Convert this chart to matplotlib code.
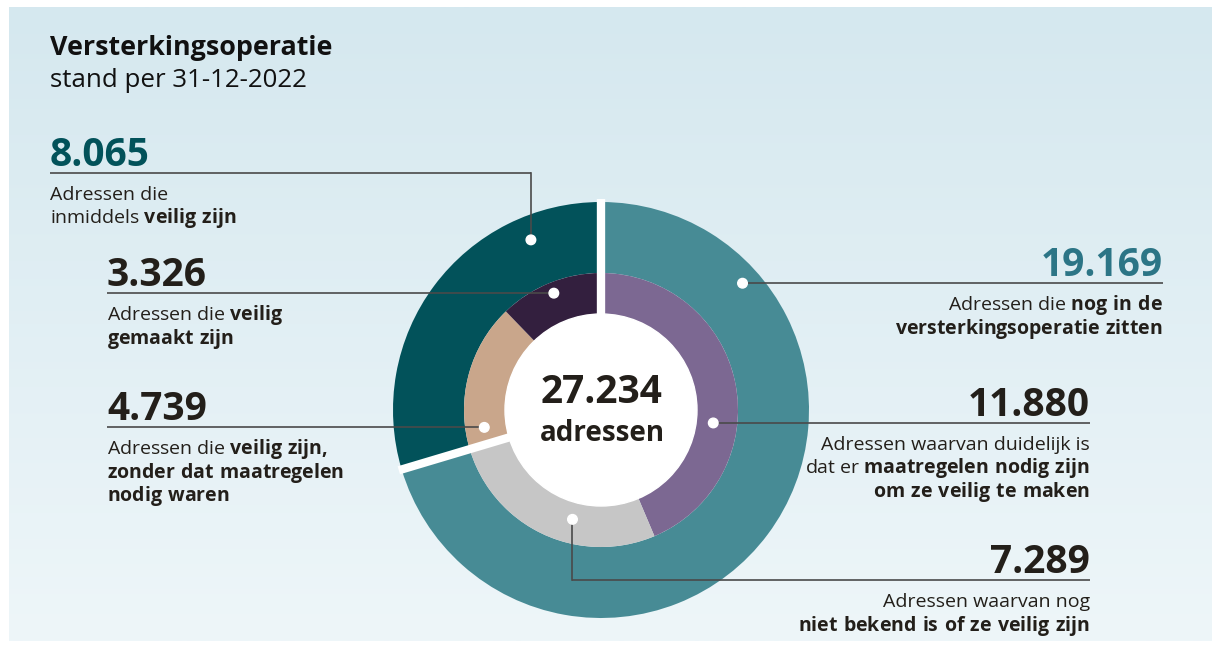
import numpy as np
import matplotlib.pyplot as plt
from matplotlib import font_manager as fm
from matplotlib.patches import Circle
from matplotlib.colors import to_rgb


def pick_family():
    # first preferred family that really has a bold face installed
    for fam in ['Noto Sans', 'Open Sans', 'Lato', 'Roboto', 'Inter', 'Liberation Sans']:
        faces = [f for f in fm.fontManager.ttflist if f.name == fam]
        has_bold = any((f.weight if isinstance(f.weight, int) else 400) >= 600 or
                       str(f.weight) in ('bold', 'semibold', 'demibold') for f in faces)
        has_reg = any(f.style == 'normal' for f in faces)
        if has_bold and has_reg:
            return fam
    return 'DejaVu Sans'


FAM = pick_family()
plt.rcParams['font.family'] = [FAM, 'DejaVu Sans']
plt.rcParams['mathtext.fontset'] = 'custom'
plt.rcParams['mathtext.rm'] = FAM
plt.rcParams['mathtext.bf'] = FAM + ':bold'

W, H = 1215, 647

title = "Versterkingsoperatie"
subtitle = "stand per 31-12-2022"
center_word = "adressen"

# outer ring: nog in operatie, inmiddels veilig
outer_values = [19169, 8065]
outer_colors = ['#478b95', '#02525a']
outer_number_colors = ['#2c7586', '#02525a']
outer_lines = [
    [r"Adressen die $\mathbf{nog\ in\ de}$", r"$\mathbf{versterkingsoperatie\ zitten}$"],
    ["Adressen die", r"inmiddels $\mathbf{veilig\ zijn}$"],
]

# inner ring: maatregelen nodig, niet bekend, veilig zonder, veilig gemaakt
inner_values = [11880, 7289, 4739, 3326]
inner_colors = ['#7c6892', '#c6c6c6', '#c9a68b', '#331f3e']
inner_lines = [
    ["Adressen waarvan duidelijk is", r"dat er $\mathbf{maatregelen\ nodig\ zijn}$",
     r"$\mathbf{om\ ze\ veilig\ te\ maken}$"],
    ["Adressen waarvan nog", r"$\mathbf{niet\ bekend\ is\ of\ ze\ veilig\ zijn}$"],
    [r"Adressen die $\mathbf{veilig\ zijn,}$", r"$\mathbf{zonder\ dat\ maatregelen}$",
     r"$\mathbf{nodig\ waren}$"],
    [r"Adressen die $\mathbf{veilig}$", r"$\mathbf{gemaakt\ zijn}$"],
]

TXT = '#231f1a'
LINE = '#4a4a4a'


def fmt(v):
    return f"{v:,}".replace(',', '.')


def dot_pos(values, i, frac, r, cx, cy):
    start = sum(values[:i])
    theta = np.radians(360 * (start + frac * values[i]) / sum(values))
    return cx + r * np.sin(theta), cy + r * np.cos(theta)


def label(ax, value, lines, x, ha, color, dot, elbow_y=None):
    dx, dy = dot
    ly = dy if elbow_y is None else H - elbow_y
    ax.plot([x, dx], [ly, ly], color=LINE, lw=1.2, zorder=3, solid_capstyle='butt')
    if elbow_y is not None:
        ax.plot([dx, dx], [ly, dy], color=LINE, lw=1.2, zorder=3)
    ax.add_patch(Circle((dx, dy), 4.8, color='white', zorder=5))
    ax.text(x, ly + 7, fmt(value), ha=ha, va='baseline', fontsize=28,
            fontweight='bold', color=color)
    for k, s in enumerate(lines):
        ax.text(x, ly - 27 - k * 23.5, s, ha=ha, va='baseline', fontsize=14, color=TXT)


def main():
    fig = plt.figure(figsize=(W / 100, H / 100), dpi=100)
    ax = fig.add_axes([0, 0, 1, 1])

    # background panel with soft vertical gradient
    top, bot = np.array(to_rgb('#d5e8ef')), np.array(to_rgb('#eef6f9'))
    t = np.linspace(0, 1, 256)[:, None, None]
    grad = top * (1 - t) + bot * t
    ax.imshow(grad, extent=[9, 1212, H - 641, H - 7], aspect='auto', zorder=0)

    cx, cy = 601, H - 410
    r_out, r_in, r_hole = 208, 137, 95

    ax.pie(outer_values, colors=outer_colors, startangle=90, counterclock=False,
           radius=r_out, center=(cx, cy), frame=True,
           wedgeprops=dict(width=r_out - r_in, linewidth=0))
    ax.pie(inner_values, colors=inner_colors, startangle=90, counterclock=False,
           radius=r_in, center=(cx, cy), frame=True,
           wedgeprops=dict(width=r_in - r_hole, linewidth=0))
    ax.add_patch(Circle((cx, cy), r_hole + 1, color='white', zorder=2))

    # white gaps between the two main groups
    cum = np.cumsum([0] + outer_values[:-1]) / sum(outer_values)
    for c in cum:
        th = np.radians(360 * c)
        ax.plot([cx + (r_hole - 2) * np.sin(th), cx + (r_out + 3) * np.sin(th)],
                [cy + (r_hole - 2) * np.cos(th), cy + (r_out + 3) * np.cos(th)],
                color='white', lw=6, solid_capstyle='butt', zorder=2.5)

    ax.text(cx + 1, cy + 7, fmt(sum(outer_values)), ha='center', va='baseline',
            fontsize=28, fontweight='bold', color=TXT, zorder=6)
    ax.text(cx + 1, cy - 31, center_word, ha='center', va='baseline',
            fontsize=20, fontweight='bold', color=TXT, zorder=6)

    ax.text(50, H - 55, title, fontsize=19.4, fontweight='bold', color='#111111', va='baseline')
    ax.text(50, H - 87, subtitle, fontsize=18.6, color='#111111', va='baseline')

    # outer ring labels
    label(ax, outer_values[0], outer_lines[0], 1163, 'right', outer_number_colors[0],
          dot_pos(outer_values, 0, 0.19, 190, cx, cy))
    label(ax, outer_values[1], outer_lines[1], 50, 'left', outer_number_colors[1],
          dot_pos(outer_values, 1, 0.79, 184, cx, cy), elbow_y=173)

    # inner ring labels
    label(ax, inner_values[0], inner_lines[0], 1090, 'right', TXT,
          dot_pos(inner_values, 0, 0.615, 113, cx, cy))
    label(ax, inner_values[1], inner_lines[1], 1090, 'right', TXT,
          dot_pos(inner_values, 1, 0.39, 113, cx, cy), elbow_y=580)
    label(ax, inner_values[2], inner_lines[2], 107, 'left', TXT,
          dot_pos(inner_values, 2, 0.13, 118, cx, cy))
    label(ax, inner_values[3], inner_lines[3], 107, 'left', TXT,
          dot_pos(inner_values, 3, 0.5, 126, cx, cy))

    ax.set_xlim(0, W)
    ax.set_ylim(0, H)
    ax.set_aspect('auto')
    ax.set_axis_off()
    fig.savefig('out.png', dpi=100, facecolor='white')


if __name__ == "__main__":
    main()
